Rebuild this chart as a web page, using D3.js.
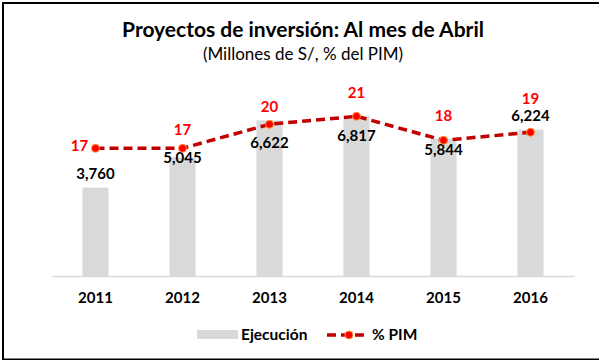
<!DOCTYPE html>
<html>
<head>
<meta charset="utf-8">
<script src="https://cdn.jsdelivr.net/npm/d3@7"></script>
<style>
  html, body { margin: 0; padding: 0; background: #fff; }
  svg { display: block; font-family: Lato, "Liberation Sans", sans-serif; }
</style>
</head>
<body>
<svg id="chart" width="599" height="360"></svg>
<script>
// Inversión en proyectos, acumulado a abril de cada año
const years = ["2011", "2012", "2013", "2014", "2015", "2016"];
const ejecucion = [3760, 5045, 6622, 6817, 5844, 6224];   // millones de S/
const pctPim = [17, 17, 20, 21, 18, 19];                  // % del PIM

const titleText = "Proyectos de inversión: Al mes de Abril";
const subtitleText = "(Millones de S/, % del PIM)";
const legendLabels = ["Ejecución", "% PIM"];

// vertical nudges for the data labels so they clear the dashed line
const barLabelDy = [-14, 0, 22, 20, 11, -14];
const pctLabelDy = [-3, -19, -18, -24, -25, -34];
const pctLabelDx = [-16, 0, 0, 0, 0, 0];

const svg = d3.select("#chart");
const W = 599, H = 360;

// frame
svg.append("rect")
  .attr("x", 3).attr("y", 3).attr("width", W + 5).attr("height", H - 3.5)
  .attr("fill", "none").attr("stroke", "#000").attr("stroke-width", 2);

// titles
svg.append("text")
  .attr("x", 303).attr("y", 37)
  .attr("text-anchor", "middle")
  .attr("font-size", 21).attr("font-weight", 700).attr("fill", "#000")
  .text(titleText);
svg.append("text")
  .attr("x", 303).attr("y", 60)
  .attr("text-anchor", "middle")
  .attr("font-size", 17).attr("fill", "#000")
  .text(subtitleText);

// scales
const x = d3.scaleBand().domain(years).range([52, 574]).paddingInner(0.7).paddingOuter(0.35);
const y = d3.scaleLinear().domain([0, 8000]).range([276, 88]);
const y2 = d3.scaleLinear().domain([0, 24]).range([284.3, 92.3]);
const cx = d => x(d) + x.bandwidth() / 2;

// bars
svg.append("g").selectAll("rect")
  .data(ejecucion)
  .join("rect")
  .attr("x", (d, i) => x(years[i]))
  .attr("y", d => y(d))
  .attr("width", x.bandwidth())
  .attr("height", d => y(0) - y(d))
  .attr("fill", "#d9d9d9");

// category axis
const xAxis = svg.append("g")
  .attr("transform", `translate(0,${y(0)})`)
  .call(d3.axisBottom(x).tickSize(0).tickPadding(16));
xAxis.select(".domain").attr("stroke", "#d9d9d9").attr("stroke-width", 1.5);
xAxis.selectAll("text")
  .attr("font-family", "Lato, sans-serif")
  .attr("font-size", 15).attr("font-weight", 700).attr("fill", "#000");

// bar value labels
const fmt = d3.format(",");
svg.append("g").selectAll("text")
  .data(ejecucion)
  .join("text")
  .attr("x", (d, i) => cx(years[i]))
  .attr("y", (d, i) => y(d) + barLabelDy[i])
  .attr("dy", "0.35em")
  .attr("text-anchor", "middle")
  .attr("font-size", 15).attr("font-weight", 700).attr("fill", "#000")
  .text(d => fmt(d));

// % PIM line
const line = d3.line()
  .x((d, i) => cx(years[i]))
  .y(d => y2(d));
svg.append("path")
  .datum(pctPim)
  .attr("d", line)
  .attr("fill", "none")
  .attr("stroke", "#c00000")
  .attr("stroke-width", 3.5)
  .attr("stroke-dasharray", "9,5");

svg.append("g").selectAll("circle")
  .data(pctPim)
  .join("circle")
  .attr("cx", (d, i) => cx(years[i]))
  .attr("cy", d => y2(d))
  .attr("r", 4)
  .attr("fill", "#ff0000")
  .attr("stroke", "#ff9933")
  .attr("stroke-width", 1);

svg.append("g").selectAll("text")
  .data(pctPim)
  .join("text")
  .attr("x", (d, i) => cx(years[i]) + pctLabelDx[i])
  .attr("y", (d, i) => y2(d) + pctLabelDy[i])
  .attr("dy", "0.35em")
  .attr("text-anchor", "middle")
  .attr("font-size", 15).attr("font-weight", 700).attr("fill", "#ff0000")
  .text(d => d);

// legend
const lg = svg.append("g");
lg.append("rect")
  .attr("x", 197).attr("y", 330).attr("width", 41).attr("height", 9)
  .attr("fill", "#d9d9d9");
lg.append("text")
  .attr("x", 241).attr("y", 335).attr("dy", "0.35em")
  .attr("font-size", 15.5).attr("font-weight", 700).attr("fill", "#000")
  .text(legendLabels[0]);
lg.append("line")
  .attr("x1", 327).attr("x2", 365).attr("y1", 335).attr("y2", 335)
  .attr("stroke", "#c00000").attr("stroke-width", 3.5)
  .attr("stroke-dasharray", "9,5");
lg.append("circle")
  .attr("cx", 349).attr("cy", 335).attr("r", 4)
  .attr("fill", "#ff0000").attr("stroke", "#ff9933").attr("stroke-width", 1);
lg.append("text")
  .attr("x", 372).attr("y", 335).attr("dy", "0.35em")
  .attr("font-size", 15.5).attr("font-weight", 700).attr("fill", "#000")
  .text(legendLabels[1]);
</script>
</body>
</html>
